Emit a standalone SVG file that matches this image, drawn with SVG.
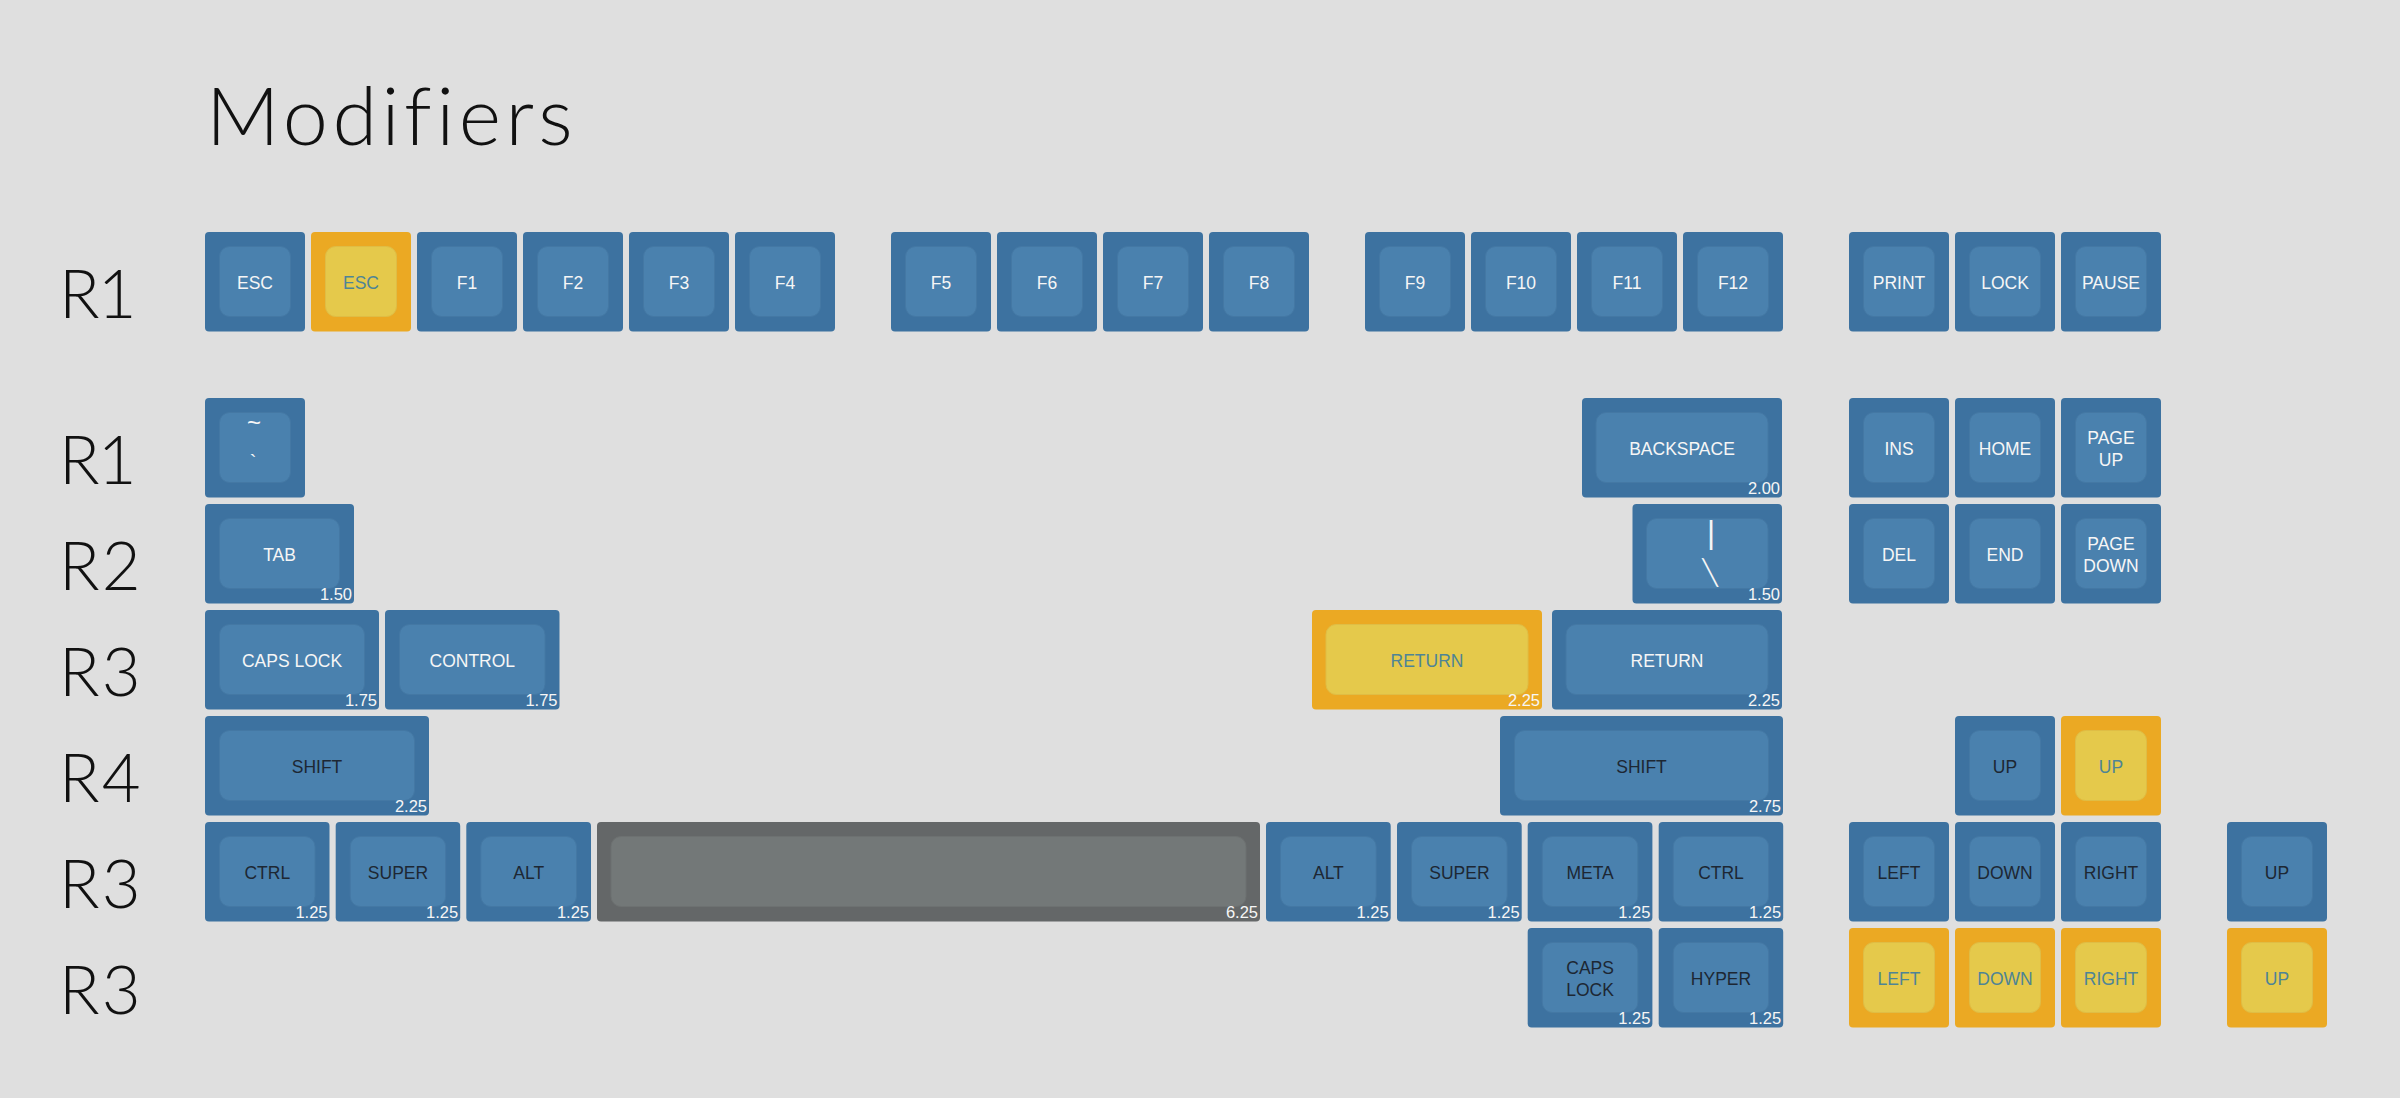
<svg xmlns="http://www.w3.org/2000/svg" width="2400" height="1098" viewBox="0 0 2400 1098">
  <style>
    .bg { fill: #dfdfdf; }
    .ob { fill: #3d72a0; }
    .ib { fill: #4a81ae; stroke: #4478a4; stroke-width: 1; }
    .oy { fill: #eba923; }
    .iy { fill: #e5c94b; stroke: #dfbd45; stroke-width: 1; }
    .og { fill: #646768; }
    .ig { fill: #737878; stroke: #6d7171; stroke-width: 1; }
    .t { font-family: "Liberation Sans", Arial, sans-serif; font-size: 17.5px; text-anchor: middle; }
    .tw { fill: #f6f6f6; }
    .td { fill: #1d2733; }
    .tt { fill: #4e8496; }
    .sz { font-family: "Liberation Sans", Arial, sans-serif; font-size: 16.5px; text-anchor: end; fill: #f6f6f6; }
    .title { font-family: Lato, "Liberation Sans", sans-serif; font-weight: 300; font-size: 81px; letter-spacing: 4.5px; fill: #111; }
    .row { font-family: Lato, "Liberation Sans", sans-serif; font-weight: 300; font-size: 67px; letter-spacing: 2px; fill: #111; }
    .row.one { letter-spacing: -2px; }
  </style>

  <rect class="bg" x="0" y="0" width="2400" height="1098"/>

  <text class="title" x="206" y="145">Modifiers</text>

  <!-- row labels -->
  <g id="row-labels">
    <text class="row one" x="59" y="318">R1</text>
    <text class="row one" x="59" y="484">R1</text>
    <text class="row" x="59" y="590">R2</text>
    <text class="row" x="59" y="696">R3</text>
    <text class="row" x="59" y="802">R4</text>
    <text class="row" x="59" y="908">R3</text>
    <text class="row" x="59" y="1014">R3</text>
  </g>

  <!-- function row -->
  <g id="key-esc"><rect class="ob" x="205" y="232" width="100" height="99.5" rx="4"/><rect class="ib" x="219.5" y="246.5" width="71" height="70" rx="10"/><text class="t tw" x="255" y="289.3">ESC</text></g>
  <g id="key-esc-alt"><rect class="oy" x="311" y="232" width="100" height="99.5" rx="4"/><rect class="iy" x="325.5" y="246.5" width="71" height="70" rx="10"/><text class="t tt" x="361" y="289.3">ESC</text></g>
  <g id="key-f1"><rect class="ob" x="417" y="232" width="100" height="99.5" rx="4"/><rect class="ib" x="431.5" y="246.5" width="71" height="70" rx="10"/><text class="t tw" x="467" y="289.3">F1</text></g>
  <g id="key-f2"><rect class="ob" x="523" y="232" width="100" height="99.5" rx="4"/><rect class="ib" x="537.5" y="246.5" width="71" height="70" rx="10"/><text class="t tw" x="573" y="289.3">F2</text></g>
  <g id="key-f3"><rect class="ob" x="629" y="232" width="100" height="99.5" rx="4"/><rect class="ib" x="643.5" y="246.5" width="71" height="70" rx="10"/><text class="t tw" x="679" y="289.3">F3</text></g>
  <g id="key-f4"><rect class="ob" x="735" y="232" width="100" height="99.5" rx="4"/><rect class="ib" x="749.5" y="246.5" width="71" height="70" rx="10"/><text class="t tw" x="785" y="289.3">F4</text></g>
  <g id="key-f5"><rect class="ob" x="891" y="232" width="100" height="99.5" rx="4"/><rect class="ib" x="905.5" y="246.5" width="71" height="70" rx="10"/><text class="t tw" x="941" y="289.3">F5</text></g>
  <g id="key-f6"><rect class="ob" x="997" y="232" width="100" height="99.5" rx="4"/><rect class="ib" x="1011.5" y="246.5" width="71" height="70" rx="10"/><text class="t tw" x="1047" y="289.3">F6</text></g>
  <g id="key-f7"><rect class="ob" x="1103" y="232" width="100" height="99.5" rx="4"/><rect class="ib" x="1117.5" y="246.5" width="71" height="70" rx="10"/><text class="t tw" x="1153" y="289.3">F7</text></g>
  <g id="key-f8"><rect class="ob" x="1209" y="232" width="100" height="99.5" rx="4"/><rect class="ib" x="1223.5" y="246.5" width="71" height="70" rx="10"/><text class="t tw" x="1259" y="289.3">F8</text></g>
  <g id="key-f9"><rect class="ob" x="1365" y="232" width="100" height="99.5" rx="4"/><rect class="ib" x="1379.5" y="246.5" width="71" height="70" rx="10"/><text class="t tw" x="1415" y="289.3">F9</text></g>
  <g id="key-f10"><rect class="ob" x="1471" y="232" width="100" height="99.5" rx="4"/><rect class="ib" x="1485.5" y="246.5" width="71" height="70" rx="10"/><text class="t tw" x="1521" y="289.3">F10</text></g>
  <g id="key-f11"><rect class="ob" x="1577" y="232" width="100" height="99.5" rx="4"/><rect class="ib" x="1591.5" y="246.5" width="71" height="70" rx="10"/><text class="t tw" x="1627" y="289.3">F11</text></g>
  <g id="key-f12"><rect class="ob" x="1683" y="232" width="100" height="99.5" rx="4"/><rect class="ib" x="1697.5" y="246.5" width="71" height="70" rx="10"/><text class="t tw" x="1733" y="289.3">F12</text></g>
  <g id="key-print"><rect class="ob" x="1849" y="232" width="100" height="99.5" rx="4"/><rect class="ib" x="1863.5" y="246.5" width="71" height="70" rx="10"/><text class="t tw" x="1899" y="289.3">PRINT</text></g>
  <g id="key-lock"><rect class="ob" x="1955" y="232" width="100" height="99.5" rx="4"/><rect class="ib" x="1969.5" y="246.5" width="71" height="70" rx="10"/><text class="t tw" x="2005" y="289.3">LOCK</text></g>
  <g id="key-pause"><rect class="ob" x="2061" y="232" width="100" height="99.5" rx="4"/><rect class="ib" x="2075.5" y="246.5" width="71" height="70" rx="10"/><text class="t tw" x="2111" y="289.3">PAUSE</text></g>

  <!-- number row -->
  <g id="key-grave"><rect class="ob" x="205" y="398" width="100" height="99.5" rx="4"/><rect class="ib" x="219.5" y="412.5" width="71" height="70" rx="10"/><text class="t tw" x="254" y="431" style="font-size:24px">~</text><text class="t tw" x="253" y="469" style="font-size:20px">`</text></g>
  <g id="key-backspace"><rect class="ob" x="1582" y="398" width="200" height="99.5" rx="4"/><rect class="ib" x="1596" y="412.5" width="172" height="70" rx="10"/><text class="t tw" x="1682" y="455.3">BACKSPACE</text><text class="sz" x="1780" y="494">2.00</text></g>
  <g id="key-ins"><rect class="ob" x="1849" y="398" width="100" height="99.5" rx="4"/><rect class="ib" x="1863.5" y="412.5" width="71" height="70" rx="10"/><text class="t tw" x="1899" y="455.3">INS</text></g>
  <g id="key-home"><rect class="ob" x="1955" y="398" width="100" height="99.5" rx="4"/><rect class="ib" x="1969.5" y="412.5" width="71" height="70" rx="10"/><text class="t tw" x="2005" y="455.3">HOME</text></g>
  <g id="key-pageup"><rect class="ob" x="2061" y="398" width="100" height="99.5" rx="4"/><rect class="ib" x="2075.5" y="412.5" width="71" height="70" rx="10"/><text class="t tw" x="2111" y="443.7">PAGE</text><text class="t tw" x="2111" y="465.7">UP</text></g>

  <!-- tab row -->
  <g id="key-tab"><rect class="ob" x="205" y="504" width="149" height="99.5" rx="4"/><rect class="ib" x="219.5" y="518.5" width="120" height="70" rx="10"/><text class="t tw" x="279.5" y="561.3">TAB</text><text class="sz" x="352" y="600">1.50</text></g>
  <g id="key-pipe"><rect class="ob" x="1632.5" y="504" width="149.5" height="99.5" rx="4"/><rect class="ib" x="1646.5" y="518.5" width="121.5" height="70" rx="10"/><text class="t tw" x="1711" y="542.6" style="font-size:31px">|</text><text class="t tw" transform="translate(1710 584.5) scale(1.25 1)" x="0" y="0" style="font-size:38px;font-family:Lato,'Liberation Sans',sans-serif;font-weight:300">\</text><text class="sz" x="1780" y="600">1.50</text></g>
  <g id="key-del"><rect class="ob" x="1849" y="504" width="100" height="99.5" rx="4"/><rect class="ib" x="1863.5" y="518.5" width="71" height="70" rx="10"/><text class="t tw" x="1899" y="561.3">DEL</text></g>
  <g id="key-end"><rect class="ob" x="1955" y="504" width="100" height="99.5" rx="4"/><rect class="ib" x="1969.5" y="518.5" width="71" height="70" rx="10"/><text class="t tw" x="2005" y="561.3">END</text></g>
  <g id="key-pagedown"><rect class="ob" x="2061" y="504" width="100" height="99.5" rx="4"/><rect class="ib" x="2075.5" y="518.5" width="71" height="70" rx="10"/><text class="t tw" x="2111" y="549.7">PAGE</text><text class="t tw" x="2111" y="571.7">DOWN</text></g>

  <!-- home row -->
  <g id="key-capslock"><rect class="ob" x="205" y="610" width="174" height="99.5" rx="4"/><rect class="ib" x="219.5" y="624.5" width="145" height="70" rx="10"/><text class="t tw" x="292" y="667.3">CAPS LOCK</text><text class="sz" x="377" y="706">1.75</text></g>
  <g id="key-control"><rect class="ob" x="385" y="610" width="174.5" height="99.5" rx="4"/><rect class="ib" x="399.5" y="624.5" width="145.5" height="70" rx="10"/><text class="t tw" x="472.3" y="667.3">CONTROL</text><text class="sz" x="557.5" y="706">1.75</text></g>
  <g id="key-return-alt"><rect class="oy" x="1312" y="610" width="230" height="99.5" rx="4"/><rect class="iy" x="1326" y="624.5" width="202" height="70" rx="10"/><text class="t tt" x="1427" y="667.3">RETURN</text><text class="sz" x="1540" y="706">2.25</text></g>
  <g id="key-return"><rect class="ob" x="1552" y="610" width="230" height="99.5" rx="4"/><rect class="ib" x="1566" y="624.5" width="202" height="70" rx="10"/><text class="t tw" x="1667" y="667.3">RETURN</text><text class="sz" x="1780" y="706">2.25</text></g>

  <!-- shift row -->
  <g id="key-lshift"><rect class="ob" x="205" y="716" width="224" height="99.5" rx="4"/><rect class="ib" x="219.5" y="730.5" width="195" height="70" rx="10"/><text class="t td" x="317" y="773.3">SHIFT</text><text class="sz" x="427" y="812">2.25</text></g>
  <g id="key-rshift"><rect class="ob" x="1500" y="716" width="283" height="99.5" rx="4"/><rect class="ib" x="1514.5" y="730.5" width="254" height="70" rx="10"/><text class="t td" x="1641.5" y="773.3">SHIFT</text><text class="sz" x="1781" y="812">2.75</text></g>
  <g id="key-up"><rect class="ob" x="1955" y="716" width="100" height="99.5" rx="4"/><rect class="ib" x="1969.5" y="730.5" width="71" height="70" rx="10"/><text class="t td" x="2005" y="773.3">UP</text></g>
  <g id="key-up-alt"><rect class="oy" x="2061" y="716" width="100" height="99.5" rx="4"/><rect class="iy" x="2075.5" y="730.5" width="71" height="70" rx="10"/><text class="t tt" x="2111" y="773.3">UP</text></g>

  <!-- bottom row -->
  <g id="key-lctrl"><rect class="ob" x="205" y="822" width="124.5" height="99.5" rx="4"/><rect class="ib" x="219.5" y="836.5" width="95.5" height="70" rx="10"/><text class="t td" x="267.3" y="879.3">CTRL</text><text class="sz" x="327.5" y="918">1.25</text></g>
  <g id="key-lsuper"><rect class="ob" x="335.7" y="822" width="124.5" height="99.5" rx="4"/><rect class="ib" x="350.2" y="836.5" width="95.5" height="70" rx="10"/><text class="t td" x="398" y="879.3">SUPER</text><text class="sz" x="458.2" y="918">1.25</text></g>
  <g id="key-lalt"><rect class="ob" x="466.3" y="822" width="124.7" height="99.5" rx="4"/><rect class="ib" x="480.8" y="836.5" width="95.7" height="70" rx="10"/><text class="t td" x="528.7" y="879.3">ALT</text><text class="sz" x="589" y="918">1.25</text></g>
  <g id="key-space"><rect class="og" x="597" y="822" width="663" height="99.5" rx="4"/><rect class="ig" x="611" y="836.5" width="635" height="70" rx="10"/><text class="sz" x="1258" y="918">6.25</text></g>
  <g id="key-ralt"><rect class="ob" x="1266" y="822" width="124.7" height="99.5" rx="4"/><rect class="ib" x="1280.5" y="836.5" width="95.7" height="70" rx="10"/><text class="t td" x="1328.4" y="879.3">ALT</text><text class="sz" x="1388.7" y="918">1.25</text></g>
  <g id="key-rsuper"><rect class="ob" x="1397" y="822" width="124.7" height="99.5" rx="4"/><rect class="ib" x="1411.5" y="836.5" width="95.7" height="70" rx="10"/><text class="t td" x="1459.4" y="879.3">SUPER</text><text class="sz" x="1519.7" y="918">1.25</text></g>
  <g id="key-meta"><rect class="ob" x="1527.7" y="822" width="124.7" height="99.5" rx="4"/><rect class="ib" x="1542.2" y="836.5" width="95.7" height="70" rx="10"/><text class="t td" x="1590.1" y="879.3">META</text><text class="sz" x="1650.4" y="918">1.25</text></g>
  <g id="key-rctrl"><rect class="ob" x="1658.7" y="822" width="124.5" height="99.5" rx="4"/><rect class="ib" x="1673.2" y="836.5" width="95.5" height="70" rx="10"/><text class="t td" x="1721" y="879.3">CTRL</text><text class="sz" x="1781.2" y="918">1.25</text></g>
  <g id="key-left"><rect class="ob" x="1849" y="822" width="100" height="99.5" rx="4"/><rect class="ib" x="1863.5" y="836.5" width="71" height="70" rx="10"/><text class="t td" x="1899" y="879.3">LEFT</text></g>
  <g id="key-down"><rect class="ob" x="1955" y="822" width="100" height="99.5" rx="4"/><rect class="ib" x="1969.5" y="836.5" width="71" height="70" rx="10"/><text class="t td" x="2005" y="879.3">DOWN</text></g>
  <g id="key-right"><rect class="ob" x="2061" y="822" width="100" height="99.5" rx="4"/><rect class="ib" x="2075.5" y="836.5" width="71" height="70" rx="10"/><text class="t td" x="2111" y="879.3">RIGHT</text></g>
  <g id="key-up-far"><rect class="ob" x="2227" y="822" width="100" height="99.5" rx="4"/><rect class="ib" x="2241.5" y="836.5" width="71" height="70" rx="10"/><text class="t td" x="2277" y="879.3">UP</text></g>

  <!-- extra row -->
  <g id="key-capslock-alt"><rect class="ob" x="1527.7" y="928" width="124.7" height="99.5" rx="4"/><rect class="ib" x="1542.2" y="942.5" width="95.7" height="70" rx="10"/><text class="t td" x="1590.1" y="973.7">CAPS</text><text class="t td" x="1590.1" y="995.7">LOCK</text><text class="sz" x="1650.4" y="1024">1.25</text></g>
  <g id="key-hyper"><rect class="ob" x="1658.7" y="928" width="124.5" height="99.5" rx="4"/><rect class="ib" x="1673.2" y="942.5" width="95.5" height="70" rx="10"/><text class="t td" x="1721" y="985.3">HYPER</text><text class="sz" x="1781.2" y="1024">1.25</text></g>
  <g id="key-left-alt"><rect class="oy" x="1849" y="928" width="100" height="99.5" rx="4"/><rect class="iy" x="1863.5" y="942.5" width="71" height="70" rx="10"/><text class="t tt" x="1899" y="985.3">LEFT</text></g>
  <g id="key-down-alt"><rect class="oy" x="1955" y="928" width="100" height="99.5" rx="4"/><rect class="iy" x="1969.5" y="942.5" width="71" height="70" rx="10"/><text class="t tt" x="2005" y="985.3">DOWN</text></g>
  <g id="key-right-alt"><rect class="oy" x="2061" y="928" width="100" height="99.5" rx="4"/><rect class="iy" x="2075.5" y="942.5" width="71" height="70" rx="10"/><text class="t tt" x="2111" y="985.3">RIGHT</text></g>
  <g id="key-up-far-alt"><rect class="oy" x="2227" y="928" width="100" height="99.5" rx="4"/><rect class="iy" x="2241.5" y="942.5" width="71" height="70" rx="10"/><text class="t tt" x="2277" y="985.3">UP</text></g>
</svg>
